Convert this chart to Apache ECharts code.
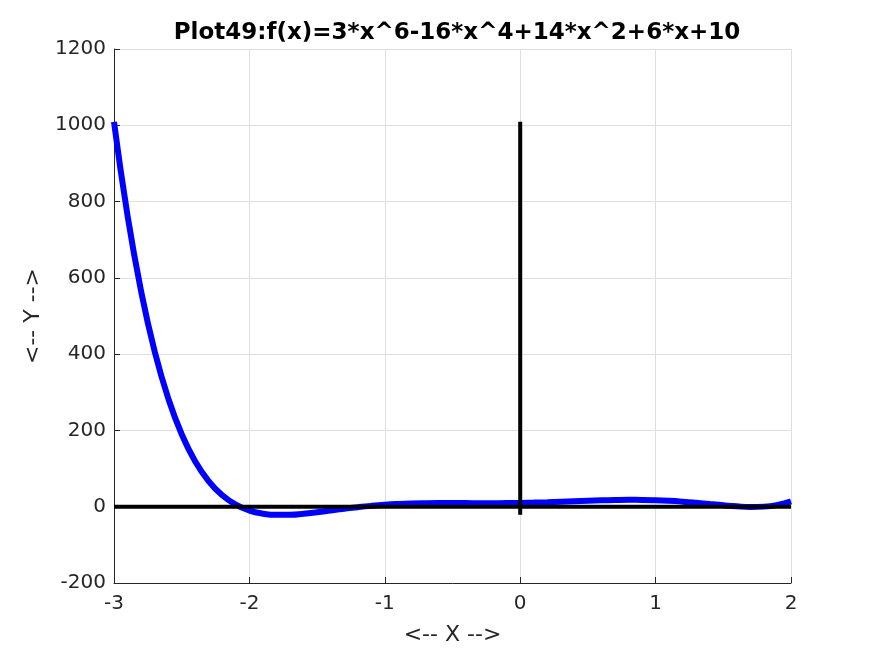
<!DOCTYPE html>
<html><head><meta charset="utf-8">
<script src="https://cdn.jsdelivr.net/npm/echarts@6/dist/echarts.min.js"></script>
<style>html,body{margin:0;padding:0;background:#fff}#c{width:875px;height:656px}</style>
</head><body><div id="c"></div>
<script>
var xValues = [-3.0,-2.9,-2.8,-2.7,-2.6,-2.5,-2.4,-2.3,-2.2,-2.1,-2.0,-1.9,-1.8,-1.7,-1.6,-1.5,-1.4,-1.3,-1.2,-1.1,-1.0,-0.9,-0.8,-0.7,-0.6,-0.5,-0.4,-0.3,-0.2,-0.1,0.0,0.1,0.2,0.3,0.4,0.5,0.6,0.7,0.8,0.9,1.0,1.1,1.2,1.3,1.4,1.5,1.6,1.7,1.8,1.9,2.0];
var yValues = [1009,763.16,565.18,407.81,284.63,189.92,118.71,66.62,29.89,5.27,-10,-18.23,-21.36,-20.96,-18.29,-14.33,-9.84,-5.36,-1.26,2.22,5,7.03,8.40,9.17,9.51,9.55,9.44,9.33,9.33,9.54,10,10.74,11.73,12.93,14.24,15.55,16.71,17.57,18.00,17.83,17,15.42,13.14,10.24,6.96,3.67,0.91,-0.56,0.24,4.57,14];
var xAxisLine = [[-3,0],[2,0]];
var yAxisLine = [[0,-21.36],[0,1009]];
var titleText = 'Plot49:f(x)=3*x^6-16*x^4+14*x^2+6*x+10';

var chart = echarts.init(document.getElementById('c'));
var font = 'DejaVu Sans';
chart.setOption({
  animation:false,
  title:{text:titleText,left:452,top:15,textAlign:'center',textStyle:{fontFamily:font,fontSize:23,fontWeight:'bold',color:'#000',lineHeight:26}},
  grid:{left:114,right:84,top:49,bottom:73},
  xAxis:{type:'value',min:-3,max:2,interval:1,name:'<-- X -->',nameLocation:'middle',nameGap:41,
    nameTextStyle:{fontFamily:font,fontSize:22,color:'#262626'},
    axisLine:{onZero:false,lineStyle:{color:'#262626',width:1}},
    axisTick:{inside:true,length:6,lineStyle:{color:'#262626'}},
    axisLabel:{fontFamily:font,fontSize:20,color:'#262626',margin:11,formatter:function(v){return String(v);}},
    splitLine:{show:true,lineStyle:{color:'#dfdfdf',width:1}}},
  yAxis:{type:'value',min:-200,max:1200,interval:200,name:'<-- Y -->',nameLocation:'middle',nameGap:70,nameRotate:90,
    nameTextStyle:{fontFamily:font,fontSize:22,color:'#262626'},
    axisLine:{show:true,onZero:false,lineStyle:{color:'#262626',width:1}},
    axisTick:{show:true,inside:true,length:6,lineStyle:{color:'#262626'}},
    axisLabel:{fontFamily:font,fontSize:20,color:'#262626',margin:8,formatter:function(v){return String(v);}},
    splitLine:{show:true,lineStyle:{color:'#dfdfdf',width:1}}},
  series:[
    {type:'line',data:xValues.map(function(x,i){return [x,yValues[i]];}),smooth:true,showSymbol:false,
      lineStyle:{color:'#0000ff',width:6},z:2},
    {type:'line',data:xAxisLine,showSymbol:false,lineStyle:{color:'#000',width:4},z:3},
    {type:'line',data:yAxisLine,showSymbol:false,lineStyle:{color:'#000',width:4},z:3}
  ]
});
</script></body></html>
